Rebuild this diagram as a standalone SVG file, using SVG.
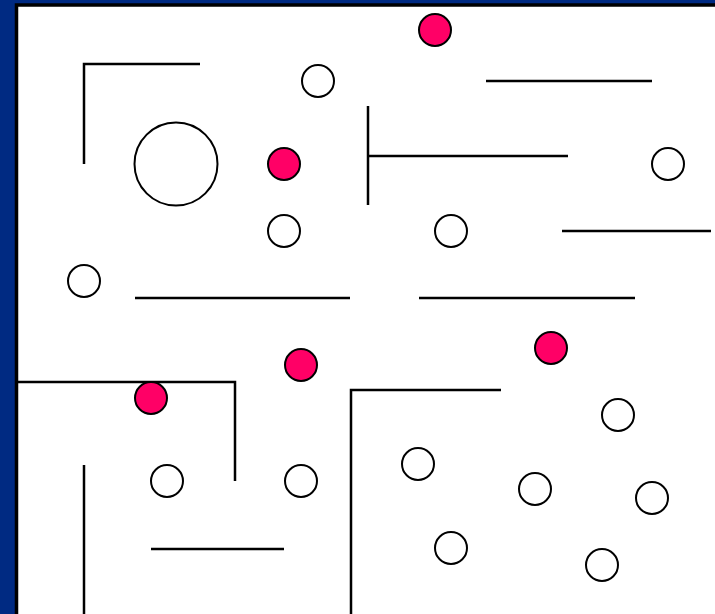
<svg xmlns="http://www.w3.org/2000/svg" width="715" height="614" viewBox="0 0 715 614">
<style>
.w{fill:#ffffff;stroke:#000;stroke-width:2}
.r{fill:#ff0066;stroke:#000;stroke-width:2}
.ln{stroke:#000;stroke-width:2.5;fill:none;stroke-linecap:butt}
</style>
<rect x="0" y="0" width="715" height="614" fill="#002a82"/>
<rect x="16.5" y="5" width="710" height="620" fill="#fff" stroke="#000" stroke-width="3.5"/>
<g id="walls" class="ln">
<path d="M84,164 V64 H200"/>
<path d="M486,81 H652"/>
<path d="M368,106 V205 M368,156 H568"/>
<path d="M562,231 H711"/>
<path d="M135,298 H350"/>
<path d="M419,298 H635"/>
<path d="M18,382 H235 V481"/>
<path d="M351,614 V390 H501"/>
<path d="M84,465 V614"/>
<path d="M151,549 H284"/>
</g>
<g id="big"><circle class="w" cx="176" cy="164" r="41.5"/></g>
<g id="red1"><circle class="r" cx="435" cy="30" r="16"/></g>
<g id="red2"><circle class="r" cx="284" cy="164" r="16"/></g>
<g id="red3"><circle class="r" cx="301" cy="365" r="16"/></g>
<g id="red4"><circle class="r" cx="551" cy="348" r="16"/></g>
<g id="red5"><circle class="r" cx="151" cy="398" r="16"/></g>
<g id="c1"><circle class="w" cx="318" cy="81" r="16"/></g>
<g id="c2"><circle class="w" cx="668" cy="164" r="16"/></g>
<g id="c3"><circle class="w" cx="284" cy="231" r="16"/></g>
<g id="c4"><circle class="w" cx="451" cy="231" r="16"/></g>
<g id="c5"><circle class="w" cx="84" cy="281" r="16"/></g>
<g id="c6"><circle class="w" cx="618" cy="415" r="16"/></g>
<g id="c7"><circle class="w" cx="167" cy="481" r="16"/></g>
<g id="c8"><circle class="w" cx="301" cy="481" r="16"/></g>
<g id="c9"><circle class="w" cx="418" cy="464" r="16"/></g>
<g id="c10"><circle class="w" cx="535" cy="489" r="16"/></g>
<g id="c11"><circle class="w" cx="652" cy="498" r="16"/></g>
<g id="c12"><circle class="w" cx="451" cy="548" r="16"/></g>
<g id="c13"><circle class="w" cx="602" cy="565" r="16"/></g>
</svg>
